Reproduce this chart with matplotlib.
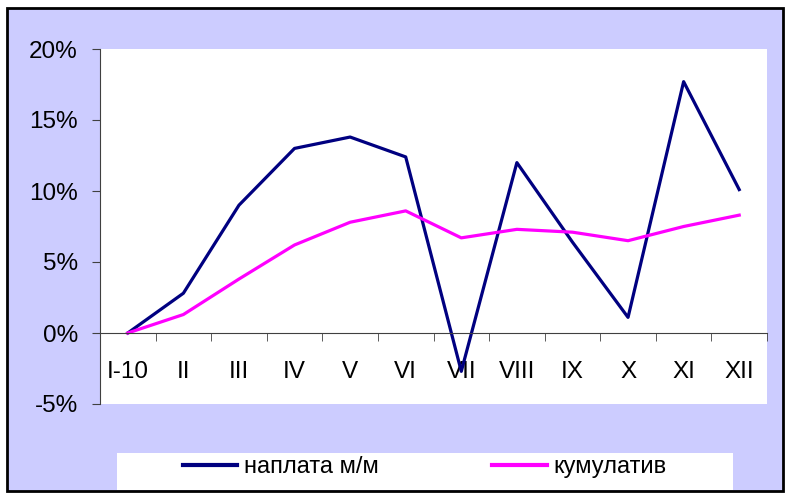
import numpy as np
import matplotlib
matplotlib.use("Agg")
import matplotlib.pyplot as plt
from matplotlib.patches import Rectangle
from matplotlib.ticker import FuncFormatter

# podaci
meseci = ["I-10", "II", "III", "IV", "V", "VI", "VII", "VIII", "IX", "X", "XI", "XII"]
naplata_mm = [0.0, 2.8, 9.0, 13.0, 13.8, 12.4, -2.7, 12.0, 6.4, 1.1, 17.7, 10.1]
kumulativ = [0.0, 1.3, 3.8, 6.2, 7.8, 8.6, 6.7, 7.3, 7.1, 6.5, 7.5, 8.3]

plt.rcParams['font.family'] = ['Liberation Sans', 'DejaVu Sans']

W, H = 785, 493
fig = plt.figure(figsize=(W / 100, H / 100), dpi=100, facecolor='white')

# pozadina i okvir
fig.patches.append(Rectangle((7 / W, 2 / H), 776 / W, 483 / H, transform=fig.transFigure,
                             facecolor='#CCCCFF', edgecolor='black', linewidth=2, zorder=-10))
fig.patches.append(Rectangle((117 / W, 3 / H), 616 / W, 37 / H, transform=fig.transFigure,
                             facecolor='white', edgecolor='none', zorder=-5))

ax = fig.add_axes([100 / W, 89 / H, 667 / W, 355 / H])
ax.set_facecolor('white')

x = np.arange(len(meseci))
l1, = ax.plot(x, naplata_mm, color='#000080', linewidth=2.3, label='наплата м/м', solid_joinstyle='round')
l2, = ax.plot(x, kumulativ, color='#FF00FF', linewidth=2.3, label='кумулатив', solid_joinstyle='round')

ax.set_xlim(-0.5, len(meseci) - 0.5)
ax.set_ylim(-5, 20)
ax.set_yticks([-5, 0, 5, 10, 15, 20])
ax.yaxis.set_major_formatter(FuncFormatter(lambda v, p: f"{v:.0f}%"))

for s in ['top', 'right']:
    ax.spines[s].set_visible(False)
ax.spines['bottom'].set_position(('data', 0))
ax.spines['bottom'].set_color('#404040')
ax.spines['left'].set_color('#404040')

ax.set_xticks(x)
ax.set_xticklabels(meseci)
ax.set_xticks(np.arange(-0.5, len(meseci)), minor=True)
ax.tick_params(axis='x', which='major', length=0, pad=20, labelsize=17.5)
ax.tick_params(axis='x', which='minor', length=6, direction='out', color='#404040')
ax.tick_params(axis='y', length=6, direction='out', pad=10, labelsize=17.5, color='#404040')

leg = fig.legend(handles=[l1, l2], loc='center', bbox_to_anchor=(425 / W, 26 / H), ncol=2,
                 frameon=False, fontsize=17, handlelength=2.3, handletextpad=0.3,
                 columnspacing=4.8)
for h in leg.legend_handles:
    h.set_linewidth(3)

fig.savefig('out.png', dpi=100)
